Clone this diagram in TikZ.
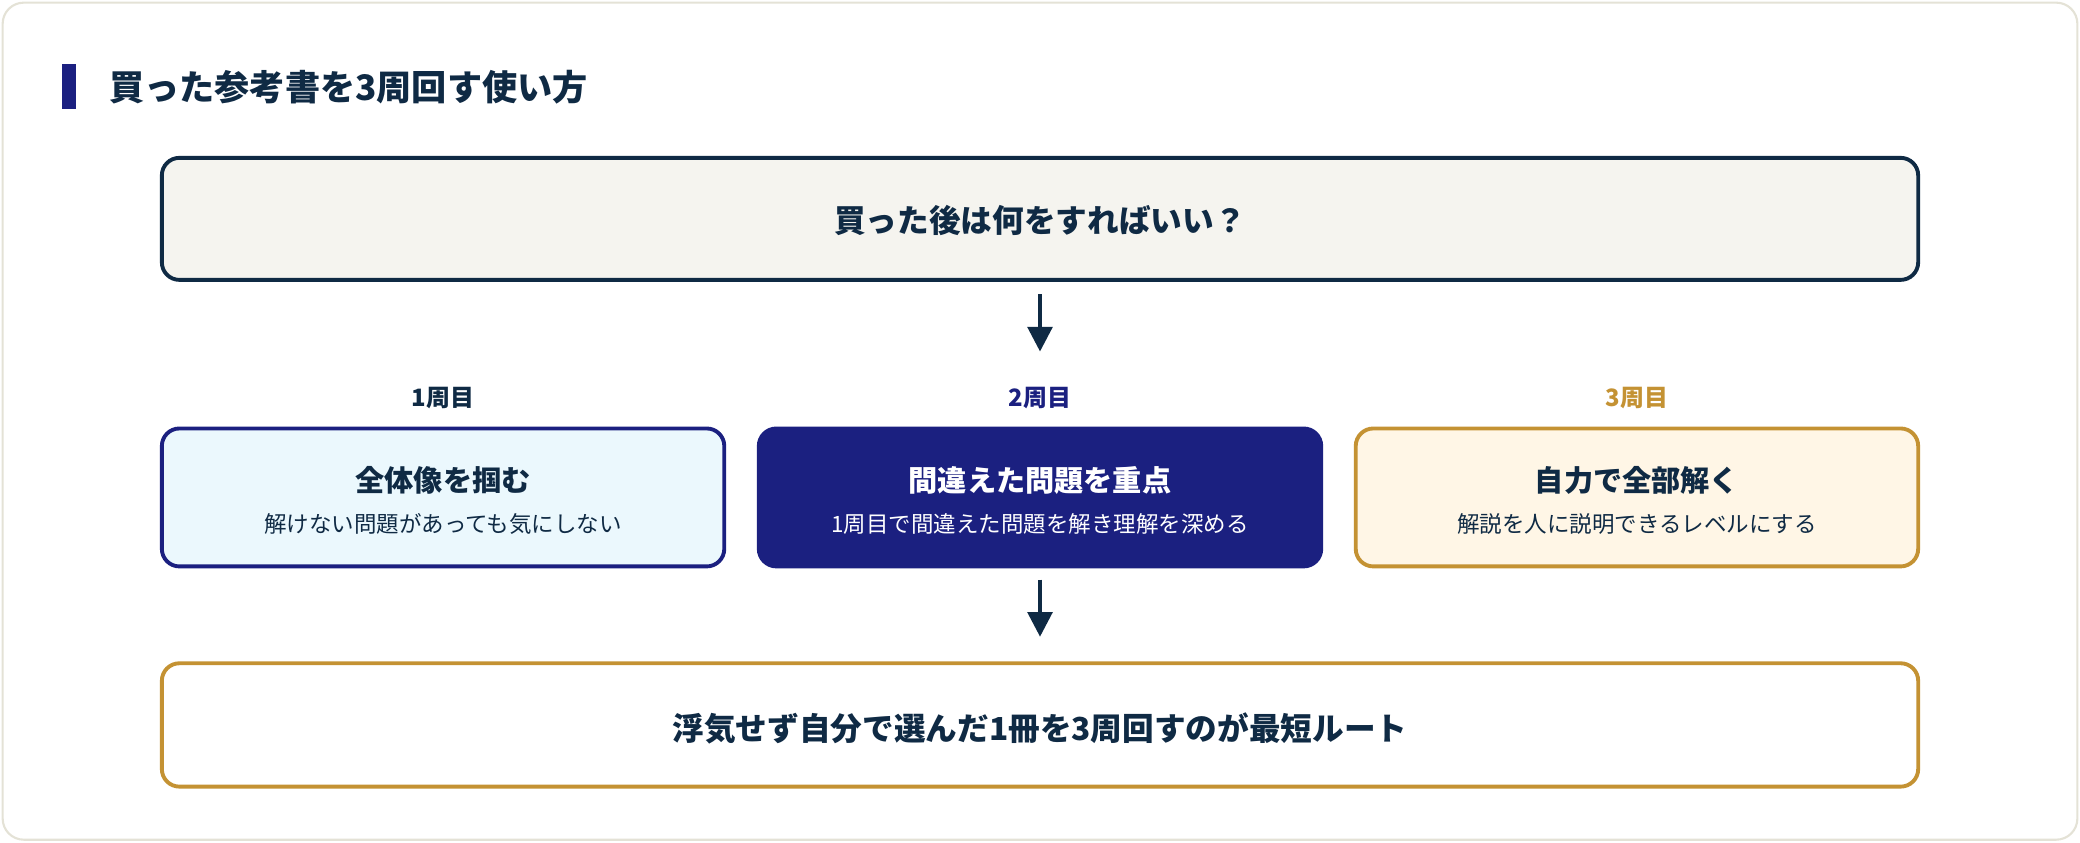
\documentclass[tikz,border=0pt]{standalone}
\usepackage{fontspec}
\setmainfont{Noto Sans CJK JP}
\usetikzlibrary{arrows.meta}
\definecolor{ink}{HTML}{0F2A44}
\definecolor{navy}{HTML}{1B2080}
\definecolor{gold}{HTML}{C49233}
\definecolor{cardline}{HTML}{E4E2D6}
\definecolor{topfill}{HTML}{F5F4EF}
\definecolor{bluefill}{HTML}{EBF8FD}
\definecolor{goldfill}{HTML}{FFF6E6}
\begin{document}
\begin{tikzpicture}[x=0.013265cm,y=-0.013265cm,
  box/.style={rounded corners=5pt,line width=1.1pt},
  arr/.style={-{Triangle[length=7pt,width=7pt]},line width=1.1pt,draw=ink},
  big/.style={font=\fontsize{9}{11}\selectfont\bfseries,text=ink},
  ttl/.style={font=\fontsize{8.3}{10}\selectfont\bfseries},
  sub/.style={font=\fontsize{6.4}{8}\selectfont},
  lab/.style={font=\fontsize{6.8}{8}\selectfont\bfseries}]
\useasboundingbox (0,0) rectangle (1568,635);
\draw[cardline,fill=white,rounded corners=6pt,line width=0.6pt] (2,2) rectangle (1566,633);
\fill[navy] (47,48) rectangle (57,82);
\node[anchor=west,font=\fontsize{10}{12}\selectfont\bfseries,text=ink] (title) at (73,66) {買った参考書を3周回す使い方};
\draw[box,draw=ink,fill=topfill] (122,119) rectangle (1446,211);
\node[big] (q) at (784,166) {買った後は何をすればいい？};
\coordinate (a1s) at (784,222); \coordinate (a1e) at (784,265);
\draw[arr] (a1s) -- (a1e);
\node[lab,text=ink] (l1) at (334,300) {1周目};
\node[lab,text=navy] (l2) at (784,300) {2周目};
\node[lab,text=gold] (l3) at (1234,300) {3周目};
\draw[box,draw=navy,fill=bluefill] (122,323) rectangle (546,427);
\draw[box,draw=navy,fill=navy] (572,323) rectangle (996,427);
\draw[box,draw=gold,fill=goldfill] (1022,323) rectangle (1446,427);
\node[ttl,text=ink] (t1) at (334,362) {全体像を掴む};
\node[sub,text=ink] (s1) at (334,395) {解けない問題があっても気にしない};
\node[ttl,text=white] (t2) at (784,362) {間違えた問題を重点};
\node[sub,text=white] (s2) at (784,395) {1周目で間違えた問題を解き理解を深める};
\node[ttl,text=ink] (t3) at (1234,362) {自力で全部解く};
\node[sub,text=ink] (s3) at (1234,395) {解説を人に説明できるレベルにする};
\coordinate (a2s) at (784,437); \coordinate (a2e) at (784,480);
\draw[arr] (a2s) -- (a2e);
\draw[box,draw=gold,fill=white] (122,500) rectangle (1446,593);
\node[big] (c) at (784,549) {浮気せず自分で選んだ1冊を3周回すのが最短ルート};
\end{tikzpicture}
\end{document}
